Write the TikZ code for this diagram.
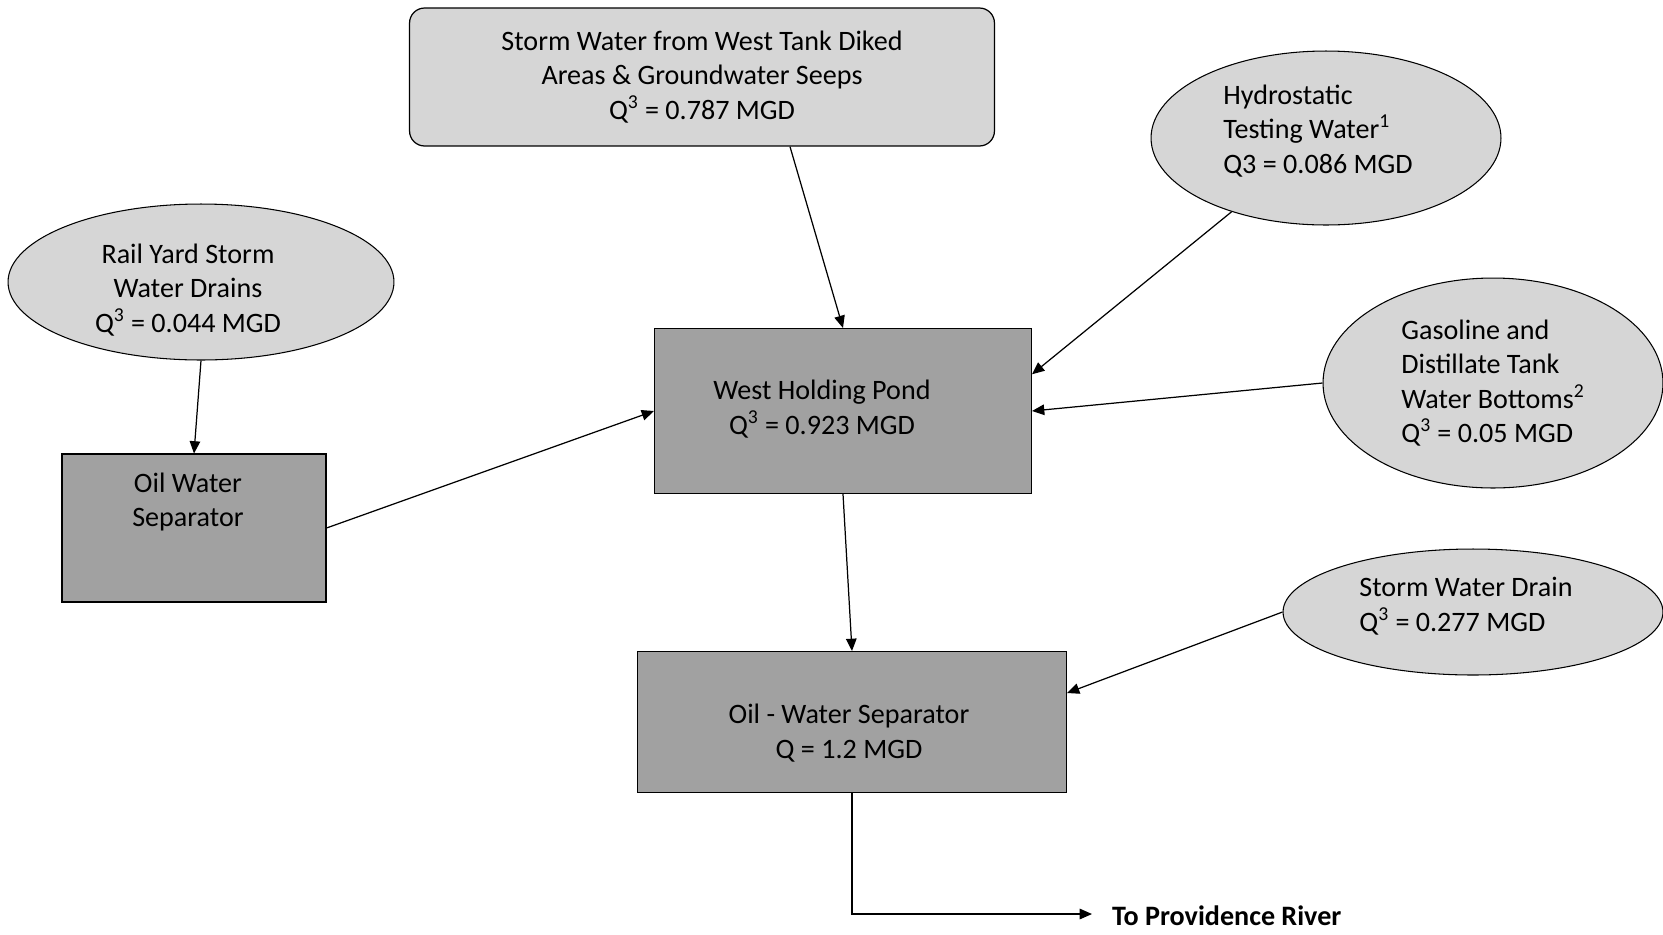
\documentclass[tikz,border=0pt]{standalone}
\usepackage{fontspec}
\setmainfont{Carlito}
\usepackage{tikz}
\usetikzlibrary{shapes.geometric,arrows.meta}
\definecolor{paleGrey}{gray}{0.84}
\definecolor{darkGrey}{gray}{0.63}

\begin{document}
\begin{tikzpicture}[x=0.02cm,y=-0.02cm,
    font=\fontsize{16}{19.6}\selectfont,
    src/.style={ellipse,draw,fill=paleGrey,line width=0.6pt,inner sep=0pt,align=left},
    unit/.style={rectangle,draw,fill=darkGrey,line width=0.6pt,inner sep=0pt},
    flow/.style={-{Triangle[length=7pt,width=6pt]},line width=0.7pt}]
  \useasboundingbox (0,0) rectangle (1663,934);
    % sources
  \node[rectangle,rounded corners=0.3cm,draw,fill=paleGrey,line width=0.7pt,align=center,
        minimum width=11.7cm,minimum height=2.76cm] (dike) at (702,77)
        {Storm Water from West Tank Diked\\Areas \& Groundwater Seeps\\Q\textsuperscript{3} = 0.787 MGD};
  \node[src,minimum width=7cm,minimum height=3.48cm] (hydro) at (1326,138) {};
  \node (hydroL) at (1318,131) [align=left] {Hydrostatic\\Testing Water\textsuperscript{1}\\Q3 = 0.086 MGD};
  \node[src,minimum width=7.72cm,minimum height=3.12cm] (rail) at (201,282) {};
  \node (railL) at (188,290) [align=center] {Rail Yard Storm\\Water Drains\\Q\textsuperscript{3} = 0.044 MGD};
  \node[src,minimum width=6.8cm,minimum height=4.2cm] (gas) at (1493,383)
        {Gasoline and\\Distillate Tank\\Water Bottoms\textsuperscript{2}\\Q\textsuperscript{3} = 0.05 MGD};
  \node[src,minimum width=7.6cm,minimum height=2.52cm] (drain) at (1473,612) {};
  \node (drainL) at (1466,606) [align=left] {Storm Water Drain\\Q\textsuperscript{3} = 0.277 MGD};
    % treatment units, labels set apart since they sit off centre
  \node[unit,minimum width=5.28cm,minimum height=2.96cm] (ows) at (194,528) {};
  \node (owsL) at (188,502) [align=center] {Oil Water\\Separator};
  \node[unit,minimum width=7.54cm,minimum height=3.3cm] (pond) at (843,411) {};
  \node (pondL) at (822,409) [align=center] {West Holding Pond\\Q\textsuperscript{3} = 0.923 MGD};
  \node[unit,minimum width=8.58cm,minimum height=2.82cm] (sep) at (852,722) {};
  \node (sepL) at (849,733) [align=center] {Oil - Water Separator\\Q = 1.2 MGD};
    % outfall
  \coordinate (out) at (1092,914);
  \node[anchor=west,inner sep=1pt,font=\fontsize{16}{19.6}\selectfont\bfseries] (river) at (1110,916) {To Providence River};
    % flows
  \draw[flow] ([xshift=1.76cm]dike.south) -- (pond.north);
  \draw[flow] (hydro.218) -- (pond.11);
  \draw[flow] (gas.west) -- (pond.east);
  \draw[flow] (rail.south) -- (ows.north);
  \draw[flow] (ows.east) -- (pond.west);
  \draw[flow] (pond.south) -- (sep.north);
  \draw[flow] (drain.west) -- ([yshift=0.58cm]sep.east);
  \draw[flow] (sep.south) |- (out);
\end{tikzpicture}
\end{document}
